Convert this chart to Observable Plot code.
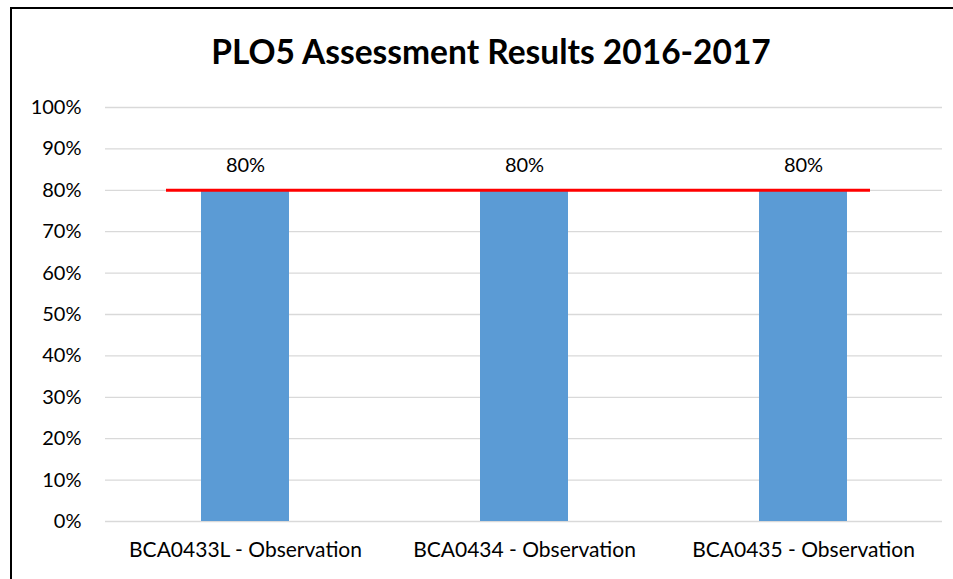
<!DOCTYPE html>
<html>
<head>
<meta charset="utf-8">
<script src="https://cdn.jsdelivr.net/npm/d3@7"></script>
<script src="https://cdn.jsdelivr.net/npm/@observablehq/plot@0.6"></script>
<style>
  html, body { margin: 0; padding: 0; background: #fff; }
  #page { position: relative; width: 953px; height: 579px; overflow: hidden; font-family: Lato, "Open Sans", sans-serif; }
  #frame { position: absolute; left: 10px; top: 7px; width: 960px; height: 600px; border-left: 2px solid #000; border-top: 2px solid #000; }
  #title { position: absolute; left: 0; top: 31px; width: 982px; text-align: center; font-size: 33.5px; font-weight: bold; color: #000; }
  #chart { position: absolute; left: 0; top: 90px; }
</style>
</head>
<body>
<div id="page">
  <div id="frame"></div>
  <div id="title">PLO5 Assessment Results 2016-2017</div>
  <div id="chart"></div>
</div>
<script>
const categories = ["BCA0433L - Observation", "BCA0434 - Observation", "BCA0435 - Observation"];
const values = [80, 80, 80];
const target = 80;
const yTicks = [0, 10, 20, 30, 40, 50, 60, 70, 80, 90, 100];

const data = categories.map((c, i) => ({category: c, value: values[i]}));

const plot = Plot.plot({
  width: 953,
  height: 489,
  marginTop: 17,
  marginBottom: 58,
  marginLeft: 105,
  marginRight: 11,
  style: {fontFamily: "Lato, 'Open Sans', sans-serif", fontSize: "20px", color: "#000", background: "transparent"},
  x: {domain: categories, paddingInner: 0.685, paddingOuter: 0.3425, label: null, tickSize: 0, tickPadding: 21},
  y: {domain: [0, 100], ticks: yTicks, tickFormat: d => d + "%", label: null, tickSize: 0, tickPadding: 24},
  marks: [
    Plot.gridY(yTicks, {stroke: "#d9d9d9", strokeOpacity: 1, strokeWidth: 1.3}),
    Plot.barY(data, {x: "category", y: "value", fill: "#5b9bd5"}),
    Plot.ruleY([target], {x1: () => categories[0], x2: () => categories[categories.length - 1], stroke: "#ff0000", strokeWidth: 3, insetLeft: -35, insetRight: -23}),
    Plot.text(data, {x: "category", y: "value", text: d => d.value + "%", dy: -25, fill: "#000", fontSize: 20})
  ]
});
plot.querySelectorAll("[aria-label='x-axis tick label'] text, g[aria-label='x-axis'] text").forEach(t => t.setAttribute("font-size", "21px"));
document.getElementById("chart").appendChild(plot);
</script>
</body>
</html>
